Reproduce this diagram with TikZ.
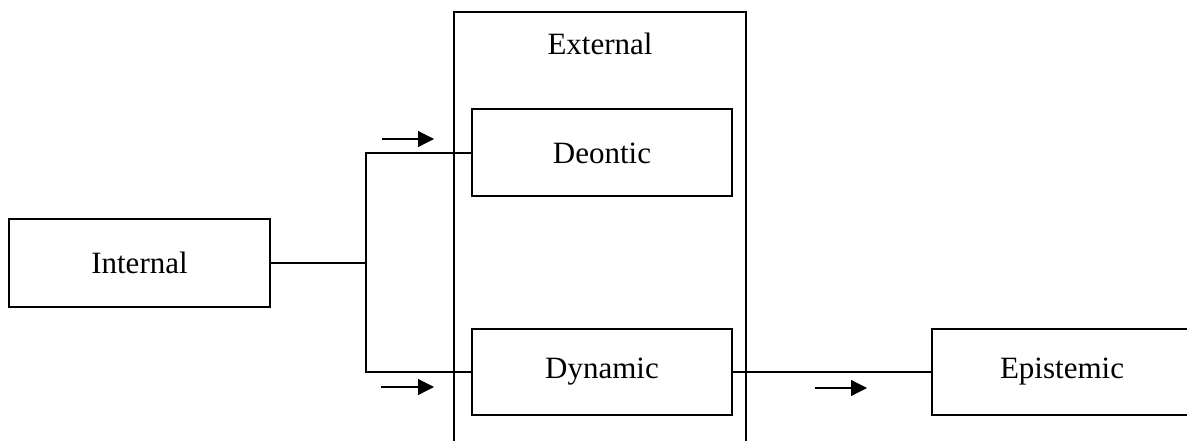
\documentclass[tikz,border=0pt]{standalone}
\usepackage{fontspec}
\setmainfont{Liberation Serif}
\usetikzlibrary{arrows.meta}
\begin{document}
\begin{tikzpicture}[x=1pt,y=-1pt,
  box/.style={draw, line width=2pt, inner sep=0pt, font=\fontsize{31}{36}\selectfont},
  lbl/.style={inner sep=0pt, font=\fontsize{31}{36}\selectfont},
  conn/.style={line width=2pt},
  flow/.style={line width=1.2pt, -{Triangle[length=16pt,width=16pt]}}]
\useasboundingbox (0,0) rectangle (1187,441);
\clip (0,0) rectangle (1187,441);
% boxes
\node[box, minimum width=261, minimum height=88] (int) at (139.5,263) {Internal};
\node[box, minimum width=292, minimum height=458] (ext) at (600,241) {};
\node[lbl] (extl) at (600,44) {External};
\node[box, minimum width=260, minimum height=87] (deo) at (602,153) {Deontic};
\node[box, minimum width=260, minimum height=86] (dyn) at (602,372) {Dynamic};
\node[box, minimum width=260, minimum height=86] (epi) at (1062,372) {Epistemic};
% connectors
\coordinate (j) at (366,263);
\draw[conn] (int.east) -- (j);
\draw[conn] (deo.west) -| (j) |- (dyn.west);
\draw[conn] (dyn.east) -- (epi.west);
% direction arrows
\coordinate (a1s) at (382,139); \coordinate (a1e) at (434,139);
\coordinate (a2s) at (381,387); \coordinate (a2e) at (434,387);
\coordinate (a3s) at (815,388); \coordinate (a3e) at (867,388);
\draw[flow] (a1s) -- (a1e);
\draw[flow] (a2s) -- (a2e);
\draw[flow] (a3s) -- (a3e);
\end{tikzpicture}
\end{document}
